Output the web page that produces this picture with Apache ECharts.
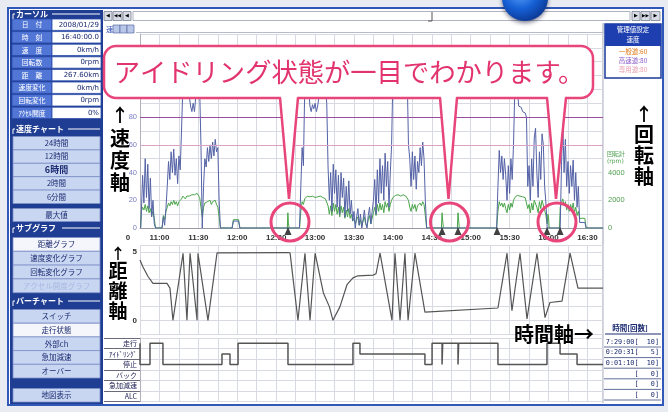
<!DOCTYPE html>
<html><head><meta charset="utf-8">
<script src="https://cdn.jsdelivr.net/npm/echarts@6.0.0/dist/echarts.min.js"></script>
<style>html,body{margin:0;padding:0;background:#e8ebf1;overflow:hidden}#c{width:668px;height:412px}</style>
</head><body><div id="c"></div><script>
// ================= DATA =================
// time in minutes after 10:00
const timeRange = [45, 402];
const speedTicks = [0, 20, 40, 60, 80];
const rpmTicks = [0, 2000, 4000];
const distanceTicks = [0, 5];
const speedLimits = [80, 60];
const speedData = [
[45.5,0],[46,10],[47,38],[48,18],[49,50],[50,22],[51,46],[52,14],[53,36],[54,8],[55,20],[56,3],[57,0],
[62,0],[63,8],[64,2],[65,14],[66,30],[67,48],[68,35],[69,55],[70,40],[71,57],[72,38],[73,50],[74,32],[75,52],[76,42],[77,70],[78,100],[79,115],[80,118],[81,112],[82,110],[83,95],[84,88],[85,84],[86,90],[87,84],[88,95],[89,110],[90,108],[91,100],[92,60],[93,0],[94,30],[95,50],[96,44],[97,58],[98,48],[99,60],[100,50],[101,62],[102,52],[103,64],[104,55],[105,58],[106,20],[107,0],
[116,0],[117,5],[121,5],[122,0],
[168,0],[169,30],[170,58],[171,45],[172,100],[173,115],[174,112],[175,105],[176,88],[177,84],[178,89],[179,86],[180,90],[181,84],[182,88],[183,95],[184,110],[185,112],[186,108],[187,105],[188,100],[189,90],[190,44],[191,20],[192,40],[193,12],[194,46],[195,25],[196,42],[197,15],[198,38],[199,10],[200,40],[201,22],[202,36],[203,8],[204,30],[205,12],[206,34],[207,10],[208,20],[209,5],[210,12],[211,0],[212,8],[213,14],[214,2],[215,10],[216,0],[217,6],[218,13],[219,4],[220,0],[221,9],[222,15],[223,3],[224,12],[225,20],[226,35],[227,10],[228,42],[229,18],[230,50],[231,25],[232,45],[233,20],[234,54],[235,30],[236,48],[237,15],[238,40],[239,60],[240,110],[241,115],[244,120],[248,118],[251,112],[252,60],[253,50],[254,30],[255,55],[256,35],[257,52],[258,28],[259,48],[260,40],[261,58],[262,45],[263,62],[264,50],[265,20],[266,0],
[320,0],[321,30],[322,56],[323,40],[324,52],[325,35],[326,50],[327,38],[328,20],[329,45],[330,25],[331,50],[332,35],[333,60],[334,100],[335,116],[336,100],[337,88],[338,88],[339,87],[340,84],[341,84],[342,83],[343,80],[344,30],[345,45],[346,20],[347,50],[348,30],[349,65],[350,72],[351,40],[352,22],[353,55],[354,35],[355,68],[356,60],[357,30],[358,18],[359,0],
[369,0],[370,45],[371,77],[372,40],[373,64],[374,30],[375,48],[376,25],[377,45],[378,30],[379,49],[380,20],[381,40],[382,15],[383,30],[384,4],[388,4],[389,0],[402,0]
];
const rpmData = [
[45.5,0],[46,1200],[47,1500],[48,1300],[49,1700],[50,1200],[51,1600],[52,1100],[53,1400],[54,900],[55,1200],[56,700],[57,0],
[62,0],[63,900],[64,600],[65,1200],[66,1500],[67,1800],[68,1600],[69,1900],[70,1700],[71,2000],[72,1700],[73,1900],[74,1600],[75,1900],[76,1800],[77,2100],[78,2300],[79,2200],[80,2100],[81,2300],[82,2400],[83,2300],[84,2200],[85,2400],[86,2500],[87,2400],[88,2300],[89,2500],[90,2400],[91,2200],[92,1500],[93,800],[94,1500],[95,1800],[96,1700],[97,1900],[98,1800],[99,2000],[100,1700],[101,1900],[102,1800],[103,2000],[104,1700],[105,1500],[106,800],[107,0],
[116,0],[117,600],[121,600],[122,0],
[158.6,0],[159,1100],[159.5,300],[160,0],
[168,0],[169,1200],[170,1900],[171,1700],[172,2100],[173,2200],[174,2300],[176,2250],[178,2300],[180,2200],[182,2250],[184,2300],[186,2200],[188,2100],[189,2000],[190,1600],[191,1000],[192,1600],[193,900],[194,1800],[195,1200],[196,1700],[197,1000],[198,1500],[199,800],[200,1600],[201,1100],[202,1500],[203,700],[204,1300],[205,800],[206,1400],[207,700],[208,1000],[209,500],[210,700],[211,300],[212,600],[213,800],[214,200],[215,600],[216,100],[217,500],[218,800],[219,300],[220,100],[221,600],[222,900],[223,300],[224,700],[225,1100],[226,1500],[227,900],[228,1700],[229,1200],[230,1800],[231,1300],[232,1700],[233,1100],[234,1900],[235,1500],[236,1800],[237,1200],[238,1700],[239,2000],[240,2200],[242,2350],[244,2400],[246,2300],[248,2400],[250,2300],[252,2000],[253,1500],[254,1200],[255,1700],[256,1400],[257,1700],[258,1200],[259,1600],[260,1500],[261,1800],[262,1600],[263,1900],[264,1700],[265,900],[266,0],
[277.4,0],[277.9,1100],[278.4,1000],[278.9,0],
[289.7,0],[290.2,1100],[290.7,1000],[291.2,0],
[320,0],[321,1200],[322,1900],[323,1600],[324,1800],[325,1500],[326,1800],[327,1400],[328,1100],[329,1700],[330,1300],[331,1800],[332,1500],[333,2000],[334,2200],[335,2300],[336,2350],[338,2300],[340,2250],[342,2200],[343,2100],[344,1400],[345,1700],[346,1100],[347,1800],[348,1300],[349,2000],[350,2100],[351,1500],[352,1100],[353,1900],[354,1400],[355,2000],[356,1900],[357,1300],[358,900],[359,300],
[359.5,1000],[360,800],[360.5,0],[368.4,0],[368.9,1200],
[369,1500],[370,1800],[371,2100],[372,1600],[373,1900],[374,1300],[375,1700],[376,1200],[377,1700],[378,1300],[379,1800],[380,1100],[381,1500],[382,900],[383,1200],[384,700],[388,700],[389,0],[402,0]
];
const distanceData = [
[45,4.4],[47.3,3.9],[51.2,3.2],[55,2.7],[65.8,2.7],[68.1,2.35],[70.4,0],[78.2,4.9],[81.2,0],[83.6,4.9],[89,0],[89.7,4.9],[97.4,0],[104.4,4.92],[159.1,4.95],[160.7,4.92],[166.8,0],[172.2,4.9],[176.1,0],[180,4.9],[186.4,2.0],[191,1.0],[193.8,0],[199.2,1.0],[204.6,2.6],[209.2,3.1],[213,3.25],[224.7,3.3],[227,3.4],[230.1,4.9],[239.3,0],[241.6,4.9],[245.5,0],[249.3,4.9],[251.7,0],[257,4.9],[264.7,0.6],[321,0.9],[328,4.9],[331.8,0.7],[338,4.9],[343.4,0.1],[351.1,4.9],[357.3,0.2],[361.1,1.3],[370.4,1.4],[376.6,4.9],[382.7,2.35],[402,2.35]
];
const stateCategories = ['ALC', '急加減速', 'バック', '停止', 'ｱｲﾄﾞﾘﾝｸﾞ', '走行'];
const stateData = [
[45,5],[52.7,3],[62.7,5],[108.2,3],[114.4,4],[120.6,3],[159.1,5],[209.2,3],[214.6,5],[264.7,4],[270.2,3],[277.9,5],[278.4,3],[290.2,5],[290.7,3],[321,5],[358.8,3],[368.9,5],[382,4],[386.6,3],[402,3]
];
const idleMarks = [159.1, 277.9, 290.2, 320.3, 358.8, 368.9];
const cursorLabels = ['日　付', '時　刻', '速　度', '回転数', '距　離', '速度変化', '回転変化', 'ｱｸｾﾙ開度'];
const cursorValues = ['2008/01/29', '16:40:00.0', '0km/h', '0rpm', '267.60km', '0km/h', '0rpm', '0%'];
const speedChartButtons = ['24時間', '12時間', '6時間', '2時間', '6分間'];
const subGraphButtons = ['距離グラフ', '速度変化グラフ', '回転変化グラフ', 'アクセル開度グラフ'];
const barChartButtons = ['スイッチ', '走行状態', '外部ch', '急加減速', 'オーバー'];
const limitLabels = ['一般道:60', '高速道:80', '専用道:80'];
const timeCountRows = ['7:29:00[  10]', '0:20:31[   5]', '0:01:10[  10]', '[   0]', '[   0]', '[   0]'];
const calloutText = 'アイドリング状態が一目でわかります。';

// ================= STYLE / LAYOUT =================
const FONT = '"Noto Sans CJK JP", "Noto Sans", sans-serif';
const PINK = '#e8457a';
const limitLineColors = ['#9a4c9e', '#d9a3c5'];
const limitTextColors = ['#e07a1a', '#8a5cc8', '#e6a0b0'];
const GRIDC = '#d8dae3';
function clock(m) { const h = 10 + Math.floor(m / 60), mm = m % 60; return h + ':' + String(mm).padStart(2, '0'); }

const g = [];
function R(x, y, w, h, fill, stroke, lw, z, r) { g.push({ type: 'rect', silent: true, z: z == null ? -50 : z, shape: { x, y, width: w, height: h, r: r || 0 }, style: { fill, stroke: stroke || null, lineWidth: lw || 1 } }); }
function T(x, y, text, o) {
  o = o || {};
  g.push({ type: 'text', silent: true, z: o.z == null ? 60 : o.z, x, y, style: { text, fill: o.fill || '#000', fontSize: o.size || 8, fontFamily: o.family || FONT, fontWeight: o.weight || 'normal', align: o.align || 'center', verticalAlign: 'middle' } });
}
function L(x1, y1, x2, y2, c, w, z) { g.push({ type: 'line', silent: true, z: z == null ? -40 : z, shape: { x1, y1, x2, y2 }, style: { stroke: c, lineWidth: w || 1 } }); }

// window frame & panels
R(8, 8, 655, 397, '#ffffff', '#2f58b8', 2, -100);
R(10, 10, 93, 394, '#1f3d92', null, 1, -90);
L(603, 23, 603, 403, '#9aa0b0', 1, -40);
// toolbar
R(104, 11.5, 8, 9, '#d8dce6', '#7a8090', 0.8); R(113, 11.5, 9, 9, '#d8dce6', '#7a8090', 0.8); R(123, 11.5, 8, 9, '#d8dce6', '#7a8090', 0.8);
T(108, 16, '◀', { size: 5, family: 'DejaVu Sans' }); T(117.5, 16, '◀◀', { size: 4.5, family: 'DejaVu Sans' }); T(127, 16, '◀', { size: 5, family: 'DejaVu Sans' });
R(133, 11.5, 497, 9, '#ffffff', '#9aa0b0', 0.8);
L(432, 12, 432, 21, '#555', 1, 10); L(428, 21, 432, 21, '#555', 1, 10);
R(632, 11.5, 8, 9, '#d8dce6', '#7a8090', 0.8); R(641, 11.5, 9, 9, '#d8dce6', '#7a8090', 0.8); R(651, 11.5, 9, 9, '#d8dce6', '#7a8090', 0.8);
T(636, 16, '▶', { size: 5, family: 'DejaVu Sans' }); T(645.5, 16, '▶▶', { size: 4.5, family: 'DejaVu Sans' }); T(655.5, 16, '▶', { size: 5, family: 'DejaVu Sans' });
// tab row
T(106, 29, '速', { size: 7, fill: '#2a4ab0', align: 'left' });
R(113, 25, 7, 8, '#b8c6e8', '#5a6aa0', 0.7); R(120, 25, 7, 8, '#b8c6e8', '#5a6aa0', 0.7); R(127, 25, 7, 8, '#b8c6e8', '#5a6aa0', 0.7);
L(136, 32.5, 603, 32.5, '#b8bcc8', 1, -40);

// ---- left panel ----
function header(y, text, lineFrom) {
  T(16, y, text, { fill: '#ffffff', size: 8, weight: 'bold', align: 'left' });
  L(lineFrom, y, 100, y, '#ffffff', 1, 5);
  L(13, y, 13, y + 5, '#ffffff', 1, 5); L(13, y, 15, y, '#ffffff', 1, 5);
}
header(14, 'カーソル', 52);
cursorLabels.forEach((lab, i) => {
  const y = 19 + i * 12.6;
  R(12, y, 40, 11.4, '#5276d6', '#2a4aa8', 0.8, -30);
  T(32, y + 5.8, lab, { fill: '#ffffff', size: 6.8 });
  R(52, y, 49, 11.4, '#ffffff', '#2a4aa8', 0.8, -30);
  T(99, y + 5.8, cursorValues[i], { fill: '#1a2a70', size: 7, align: 'right', family: '"DejaVu Sans"' });
});
header(129, '速度チャート', 68);
function button(y, h, text, o) {
  o = o || {};
  R(13, y, 87, h, o.sel ? '#f4f6fb' : '#c9d6f2', '#7d90c8', 0.8, -30);
  T(56.5, y + h / 2, text, { fill: o.fill || '#1b2b70', size: o.size || 7.5, weight: o.weight || 'normal' });
}
speedChartButtons.forEach((b, i) => button(136.5 + i * 13.4, 13.4, b, i === 2 ? { size: 9, weight: 'bold' } : {}));
button(208.5, 13, '最大値');
header(228, 'サブグラフ', 62);
subGraphButtons.forEach((b, i) => button(237.5 + i * 13.8, 13.8, b, i === 0 ? { sel: true } : (i === 3 ? { fill: '#a9b8e0' } : {})));
header(301, 'バーチャート', 68);
barChartButtons.forEach((b, i) => button(309.5 + i * 13.7, 13.7, b, i === 1 ? { sel: true } : {}));
button(388.5, 13.5, '地図表示');

// ---- right panel ----
R(605, 24, 56, 54, '#ffffff', '#1a3a9a', 1.5, -30);
R(605, 24, 56, 22, '#1d3fb0', null, 1, -29);
T(633, 30, '管理値設定', { fill: '#ffffff', size: 6.5 });
T(633, 40, '速度', { fill: '#ffffff', size: 6.5 });
limitLabels.forEach((t, i) => T(633, 52 + i * 9, t, { fill: limitTextColors[i], size: 6.5 }));
T(644, 114, '↑', { size: 18, weight: 'bold' });
['回', '転', '軸'].forEach((c, i) => T(644, 134 + i * 21, c, { size: 20, weight: 'bold' }));
T(607, 154, '回転計', { fill: '#4e9e4e', size: 6, align: 'left' });
T(607, 161.5, '(rpm)', { fill: '#4e9e4e', size: 6, align: 'left', family: '"DejaVu Sans"' });
T(630, 328, '時間[回数]', { fill: '#1a2a70', size: 7.5, weight: 'bold' });
L(605, 334, 661, 334, '#1a2a70', 1, -20);
timeCountRows.forEach((t, i) => {
  T(659, 342 + i * 10.6, t, { fill: '#1a2a70', size: 6.8, align: 'right', family: '"DejaVu Sans Mono"' });
  L(603, 347 + i * 10.6, 661, 347 + i * 10.6, '#3a4a80', 0.8, -20);
});
// ---- axis captions ----
T(120, 115, '↑', { size: 18, weight: 'bold' });
['速', '度', '軸'].forEach((c, i) => T(120, 138 + i * 22, c, { size: 20, weight: 'bold' }));
T(118, 253, '↑', { size: 15, weight: 'bold' });
['距', '離', '軸'].forEach((c, i) => T(118, 271 + i * 20, c, { size: 19, weight: 'bold' }));
T(514, 334, '時間軸→', { size: 20, weight: 'bold', align: 'left', z: 90 });
T(128, 238, '0', { size: 8, weight: 'bold', family: '"Liberation Sans"', fill: '#333' });

// ---- callout ----
g.push({ type: 'rect', silent: true, z: 100, shape: { x: 104, y: 46, width: 489, height: 52, r: 12 }, style: { fill: '#ffffff', stroke: PINK, lineWidth: 2.5 } });
const pointers = [[280, 298, 289], [440, 457, 448.5], [547, 566, 556]];
pointers.forEach(p => {
  g.push({ type: 'polygon', silent: true, z: 101, shape: { points: [[p[0] + 0.5, 93], [p[1] - 0.5, 93], [p[2], 198]] }, style: { fill: '#ffffff', stroke: null } });
  g.push({ type: 'polyline', silent: true, z: 102, shape: { points: [[p[0], 97.5], [p[2], 199], [p[1], 97.5]] }, style: { fill: null, stroke: PINK, lineWidth: 2.5 } });
  g.push({ type: 'circle', silent: true, z: 100, shape: { cx: p[2] + 1, cy: 222, r: 19 }, style: { fill: null, stroke: PINK, lineWidth: 3 } });
});
T(349, 72, calloutText, { size: 26.3, fill: '#e2336f', z: 103 });
// blue pin
g.push({ type: 'circle', silent: true, z: 110, shape: { cx: 525, cy: -2, r: 23 }, style: { fill: { type: 'radial', x: 0.4, y: 0.35, r: 0.7, colorStops: [{ offset: 0, color: '#63a8ff' }, { offset: 0.55, color: '#1660d6' }, { offset: 1, color: '#0b3690' }] }, shadowBlur: 4, shadowColor: 'rgba(0,0,40,0.5)', shadowOffsetY: 2 } });

// ================= CHART =================
function xAx(i) {
  return { type: 'value', gridIndex: i, min: timeRange[0], max: timeRange[1], interval: 15,
    axisLine: { show: i === 0, lineStyle: { color: '#9a9aa6' } }, axisTick: { show: false },
    axisLabel: { show: i === 0, formatter: v => (v % 30 === 0 && v >= 60) ? clock(v) : '', fontSize: 8, color: '#333', fontWeight: 'bold', margin: 6, fontFamily: '"Liberation Sans"' },
    splitLine: { show: true, lineStyle: { color: GRIDC, width: 1 } } };
}
const option = {
  animation: false,
  backgroundColor: '#e8ebf1',
  textStyle: { fontFamily: FONT },
  grid: [
    { left: 140, top: 34, width: 463, height: 194, outerBoundsMode: 'none' },
    { left: 140, top: 245, width: 463, height: 89, outerBoundsMode: 'none' },
    { left: 140, top: 338, width: 463, height: 63.6, outerBoundsMode: 'none' }
  ],
  xAxis: [xAx(0), xAx(1), xAx(2)],
  yAxis: [
    { type: 'value', gridIndex: 0, min: 0, max: 140, interval: 10, axisLine: { show: true, lineStyle: { color: '#b0b0bc' } }, axisTick: { show: false },
      axisLabel: { formatter: v => speedTicks.includes(v) ? String(v) : '', fontSize: 7.5, color: '#7c7fc0', margin: 3, fontFamily: '"Liberation Sans"' }, splitLine: { lineStyle: { color: GRIDC } } },
    { type: 'value', gridIndex: 0, position: 'right', min: 0, max: 14000, interval: 1000, axisLine: { show: false }, axisTick: { show: false }, splitLine: { show: false },
      axisLabel: { formatter: v => rpmTicks.includes(v) ? String(v) : '', fontSize: 7.5, color: '#4e9e4e', margin: 5, fontFamily: '"Liberation Sans"' } },
    { type: 'value', gridIndex: 1, min: -1, max: 5.5, interval: 1, axisLine: { show: false }, axisTick: { show: false },
      axisLabel: { formatter: v => distanceTicks.includes(v) ? String(v) : '', fontSize: 8, color: '#333', margin: 3, fontWeight: 'bold', fontFamily: '"Liberation Sans"' }, splitLine: { lineStyle: { color: GRIDC } } },
    { type: 'category', gridIndex: 2, data: stateCategories, boundaryGap: true, axisLine: { show: true, lineStyle: { color: '#b0b0bc' } },
      axisTick: { show: true, length: 36, lineStyle: { color: '#6a6a7a' } }, axisLabel: { fontSize: 7, color: '#1a1a50', margin: 3 }, splitLine: { show: true, lineStyle: { color: GRIDC } } }
  ],
  series: [
    { type: 'line', name: 'rpm', xAxisIndex: 0, yAxisIndex: 1, data: rpmData, showSymbol: false, lineStyle: { color: '#49a449', width: 1 }, z: 3 },
    { type: 'line', name: 'speed', xAxisIndex: 0, yAxisIndex: 0, data: speedData, showSymbol: false, lineStyle: { color: '#5462a6', width: 1 }, z: 4,
      markLine: { silent: true, symbol: 'none', label: { show: false }, data: speedLimits.map((v, i) => ({ yAxis: v, lineStyle: { color: limitLineColors[i], width: 1.2, type: 'solid' } })) } },
    { type: 'scatter', name: 'idle', xAxisIndex: 0, yAxisIndex: 0, data: idleMarks.map(t => [t, 0]), symbol: 'triangle', symbolSize: [7, 8], symbolOffset: [0, 3], clip: false, itemStyle: { color: '#111' }, z: 5 },
    { type: 'line', name: 'distance', xAxisIndex: 1, yAxisIndex: 2, data: distanceData, showSymbol: false, lineStyle: { color: '#555', width: 1.2 } },
    { type: 'line', name: 'state', xAxisIndex: 2, yAxisIndex: 3, data: stateData, step: 'end', showSymbol: false, lineStyle: { color: '#555', width: 1.5 } }
  ],
  graphic: { elements: g }
};
const chart = echarts.init(document.getElementById('c'), null, { renderer: 'canvas' });
chart.setOption(option);
</script></body></html>
